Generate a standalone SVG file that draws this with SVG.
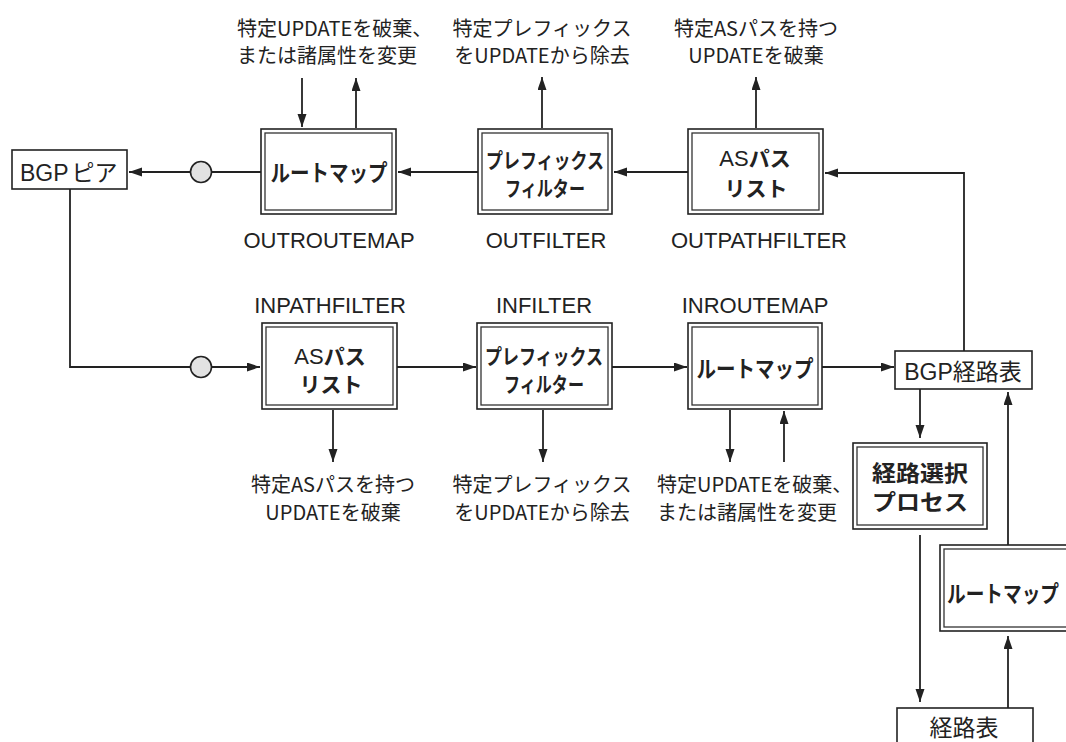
<svg xmlns="http://www.w3.org/2000/svg" width="1066" height="742" viewBox="0 0 1066 742">
<style>
.bx{fill:#fff;stroke:#222;stroke-width:1.6}
.in{fill:none;stroke:#333;stroke-width:1.3}
.ar{fill:none;stroke:#222;stroke-width:1.8;marker-end:url(#ah)}
.cir{fill:#e2e2e2;stroke:#222;stroke-width:1.6}
.jp{font-family:"Noto Sans CJK JP","Noto Sans",sans-serif;font-size:20px;fill:#222}
.en{font-family:"Liberation Sans",Arial,sans-serif;font-size:22px;fill:#222}
.bd{font-family:"Noto Sans CJK JP","Noto Sans",sans-serif;font-size:23px;font-weight:bold;fill:#222}
.b2{font-family:"Noto Sans CJK JP","Noto Sans",sans-serif;font-size:21px;font-weight:bold;fill:#222}
.b3{font-family:"Noto Sans CJK JP","Noto Sans",sans-serif;font-size:22px;font-weight:bold;fill:#222}
.as{font-family:"Liberation Sans",Arial,sans-serif;font-weight:normal;font-size:22px}
.nm{font-family:"Noto Sans CJK JP","Noto Sans",sans-serif;font-size:23px;fill:#222}
.lat{font-family:"Liberation Sans",Arial,sans-serif}
.c{text-anchor:middle}
</style>
<defs>
<marker id="ah" markerUnits="userSpaceOnUse" markerWidth="14" markerHeight="10" refX="13" refY="4.5" orient="auto">
<path d="M0,0 L13,4.5 L0,9 z" fill="#222"/>
</marker>
</defs>

<g id="connectors">
<path class="ar" d="M261 172 H129"/>
<path class="ar" d="M478 172 H398"/>
<path class="ar" d="M688 172 H614"/>
<path class="ar" d="M964 351 V173 H825"/>
<path class="ar" d="M70 189 V367 H260"/>
<path class="ar" d="M397 367 H476"/>
<path class="ar" d="M612 367 H687"/>
<path class="ar" d="M822 367 H894"/>
<path class="ar" d="M920 389 V438"/>
<path class="ar" d="M920 535 V702"/>
<path class="ar" d="M1008 708 V636"/>
<path class="ar" d="M1008 545 V392"/>
<path class="ar" d="M302 78 V127"/>
<path class="ar" d="M356 128 V78"/>
<path class="ar" d="M542 128 V77"/>
<path class="ar" d="M756 128 V77"/>
<path class="ar" d="M333 410 V462"/>
<path class="ar" d="M543 410 V462"/>
<path class="ar" d="M730 410 V462"/>
<path class="ar" d="M784 462 V411"/>
<circle class="cir" cx="201" cy="172" r="10.5"/>
<circle class="cir" cx="201" cy="367" r="10.5"/>
</g>

<g id="bgp-peer">
<rect class="bx" x="12" y="150" width="115" height="39"/>
<text class="nm" x="20" y="181"><tspan class="lat">BGP</tspan><tspan dx="3">ピア</tspan></text>
</g>

<g id="out-routemap">
<rect class="bx" x="261" y="129" width="135" height="85"/>
<rect class="in" x="265" y="133" width="127" height="77"/>
<text class="bd c" x="329" y="181" textLength="117" lengthAdjust="spacingAndGlyphs">ルートマップ</text>
<text class="en c" x="329" y="248">OUTROUTEMAP</text>
<text class="jp" x="237" y="36">特定UPDATEを破棄、</text>
<text class="jp" x="237" y="63">または諸属性を変更</text>
</g>

<g id="out-filter">
<rect class="bx" x="478" y="129" width="134" height="85"/>
<rect class="in" x="482" y="133" width="126" height="77"/>
<text class="b2 c" x="545" y="168" textLength="118" lengthAdjust="spacingAndGlyphs">プレフィックス</text>
<text class="b2 c" x="545" y="196" textLength="80" lengthAdjust="spacingAndGlyphs">フィルター</text>
<text class="en c" x="546" y="248">OUTFILTER</text>
<text class="jp c" x="542" y="36">特定プレフィックス</text>
<text class="jp c" x="542" y="63">をUPDATEから除去</text>
</g>

<g id="out-pathfilter">
<rect class="bx" x="688" y="129" width="135" height="85"/>
<rect class="in" x="692" y="133" width="127" height="77"/>
<text class="b2 c" x="755" y="166"><tspan class="as">AS</tspan>パス</text>
<text class="b2 c" x="756" y="196">リスト</text>
<text class="en c" x="759" y="248">OUTPATHFILTER</text>
<text class="jp c" x="756" y="36">特定ASパスを持つ</text>
<text class="jp c" x="756" y="63">UPDATEを破棄</text>
</g>

<g id="in-pathfilter">
<rect class="bx" x="262" y="323" width="135" height="86"/>
<rect class="in" x="266" y="327" width="127" height="78"/>
<text class="b2 c" x="330" y="364"><tspan class="as">AS</tspan>パス</text>
<text class="b2 c" x="331" y="392">リスト</text>
<text class="en c" x="330" y="313">INPATHFILTER</text>
<text class="jp c" x="333" y="492">特定ASパスを持つ</text>
<text class="jp c" x="333" y="520">UPDATEを破棄</text>
</g>

<g id="in-filter">
<rect class="bx" x="477" y="323" width="135" height="86"/>
<rect class="in" x="481" y="327" width="127" height="78"/>
<text class="b2 c" x="544" y="364" textLength="118" lengthAdjust="spacingAndGlyphs">プレフィックス</text>
<text class="b2 c" x="544" y="392" textLength="80" lengthAdjust="spacingAndGlyphs">フィルター</text>
<text class="en c" x="544" y="313">INFILTER</text>
<text class="jp c" x="542" y="492">特定プレフィックス</text>
<text class="jp c" x="542" y="520">をUPDATEから除去</text>
</g>

<g id="in-routemap">
<rect class="bx" x="688" y="323" width="134" height="86"/>
<rect class="in" x="692" y="327" width="126" height="78"/>
<text class="bd c" x="755" y="377" textLength="117" lengthAdjust="spacingAndGlyphs">ルートマップ</text>
<text class="en c" x="755" y="313">INROUTEMAP</text>
<text class="jp" x="657" y="492">特定UPDATEを破棄、</text>
<text class="jp" x="657" y="520">または諸属性を変更</text>
</g>

<g id="bgp-table">
<rect class="bx" x="895" y="351" width="137" height="38"/>
<text class="nm c" x="963" y="380"><tspan class="lat">BGP</tspan>経路表</text>
</g>

<g id="route-selection">
<rect class="bx" x="853" y="443" width="134" height="86"/>
<rect class="in" x="857" y="447" width="126" height="78"/>
<text class="b3 c" x="920" y="481" textLength="96" lengthAdjust="spacingAndGlyphs">経路選択</text>
<text class="b3 c" x="920" y="510" textLength="96" lengthAdjust="spacingAndGlyphs">プロセス</text>
</g>

<g id="redist-routemap">
<rect class="bx" x="940" y="545" width="140" height="86"/>
<rect class="in" x="944" y="549" width="132" height="78"/>
<text class="bd" x="947" y="602" textLength="112" lengthAdjust="spacingAndGlyphs">ルートマップ</text>
</g>

<g id="routing-table">
<rect class="bx" x="897" y="708" width="136" height="50"/>
<text class="nm c" x="964" y="736">経路表</text>
</g>
</svg>
